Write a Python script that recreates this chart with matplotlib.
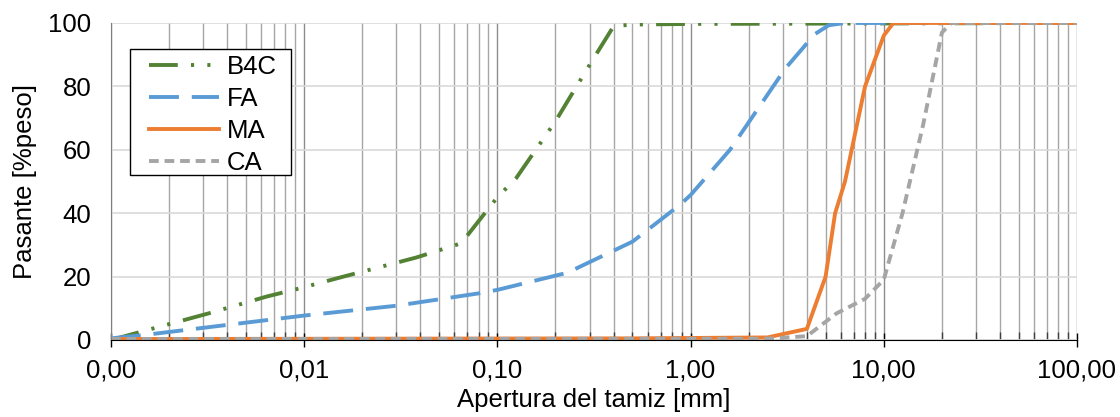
import matplotlib
matplotlib.use('Agg')
import matplotlib.pyplot as plt
from matplotlib.patches import Rectangle
from matplotlib.ticker import FixedLocator, FuncFormatter, LogLocator, NullFormatter

plt.rcParams['font.family'] = ['Liberation Sans', 'DejaVu Sans']

b4c_x = [0.001, 0.002, 0.0033, 0.0064, 0.0095, 0.016, 0.038, 0.065, 0.1, 0.125, 0.2, 0.24, 0.32, 0.4, 0.5, 1.0, 100]
b4c_y = [0, 5, 8.6, 13.7, 16.3, 20, 26, 30.5, 45, 51, 69, 77, 89.5, 99, 99.5, 99.7, 100]

fa_x = [0.001, 0.0015, 0.0037, 0.01, 0.03, 0.08, 0.1, 0.23, 0.5, 0.88, 1.0, 1.6, 3.1, 4.4, 5.2, 6.3, 100]
fa_y = [0.5, 1.6, 4.5, 7.7, 10.8, 14.7, 15.8, 21.2, 31, 42.6, 45.7, 60, 85.7, 96.5, 99.3, 100, 100]

ma_x = [0.001, 0.5, 2.5, 4.0, 5.0, 5.6, 6.3, 8.0, 10.0, 11.2, 100]
ma_y = [0.3, 0.5, 0.8, 3.5, 20, 40, 50, 80, 96, 100, 100]

ca_x = [0.001, 2.5, 4.0, 5.7, 8.0, 10.0, 12.5, 16.0, 20.0, 22.4, 100]
ca_y = [0.3, 0.4, 1.2, 8.4, 13, 19, 40, 68, 97, 100, 100]

labels = ['B4C', 'FA', 'MA', 'CA']
colors = ['#548235', '#5B9BD5', '#ED7D31', '#A5A5A5']
x_ticks = [0.001, 0.01, 0.1, 1, 10, 100]
y_ticks = [0, 20, 40, 60, 80, 100]

fig = plt.figure(figsize=(11.2, 4.17), dpi=100)
ax = fig.add_axes([0.099, 0.1847, 0.8626, 0.7602])

lw = 2.8
ax.plot(b4c_x, b4c_y, color=colors[0], lw=lw, label=labels[0],
        linestyle=(0, (7.4, 3.4, 0.8, 3.4, 0.8, 3.4)))
ax.plot(fa_x, fa_y, color=colors[1], lw=lw, label=labels[1],
        linestyle=(0, (7.7, 3.3)))
ax.plot(ma_x, ma_y, color=colors[2], lw=lw, label=labels[2])
ax.plot(ca_x, ca_y, color=colors[3], lw=lw, label=labels[3],
        linestyle=(0, (2.5, 1.5)))

ax.set_xscale('log')
ax.set_xlim(0.001, 100)
ax.set_ylim(0, 100)

ax.xaxis.set_major_locator(FixedLocator(x_ticks))
ax.xaxis.set_minor_locator(LogLocator(base=10, subs=range(2, 10), numticks=20))
ax.xaxis.set_minor_formatter(NullFormatter())
ax.xaxis.set_major_formatter(FuncFormatter(lambda v, p: ('%.2f' % v).replace('.', ',')))
ax.set_yticks(y_ticks)

ax.grid(True, which='major', axis='x', color='#8C8C8C', lw=1.0)
ax.grid(True, which='minor', axis='x', color='#A6A6A6', lw=1.0)
ax.grid(True, which='major', axis='y', color='#D9D9D9', lw=1.2)
ax.set_axisbelow(True)

for s in ['top', 'right']:
    ax.spines[s].set_visible(False)
ax.spines['left'].set_color('#7F7F7F')
ax.spines['bottom'].set_color('black')

ax.tick_params(axis='x', which='major', direction='inout', length=10, width=1, labelsize=18.5, pad=8)
ax.tick_params(axis='x', which='minor', direction='in', length=6, width=1, color='#404040')
ax.tick_params(axis='y', length=0, labelsize=18.5, pad=14)

ax.set_xlabel('Apertura del tamiz [mm]', fontsize=18.5, labelpad=4)
ax.set_ylabel('Pasante [%peso]', fontsize=18.5, labelpad=8)

# caja de la leyenda dibujada aparte para tener el margen lateral del original
ax.add_patch(Rectangle((0.0197, 0.5205), 0.1667, 0.3975, transform=ax.transAxes,
                       facecolor='white', edgecolor='black', lw=1.0, zorder=4))
leg = ax.legend(loc='upper left', bbox_to_anchor=(0.031, 0.924), borderaxespad=0,
                fontsize=18.5, frameon=False, handlelength=2.75,
                handletextpad=0.3, labelspacing=0.32, borderpad=0.3)
leg.set_zorder(5)

fig.savefig('out.png', dpi=100)
